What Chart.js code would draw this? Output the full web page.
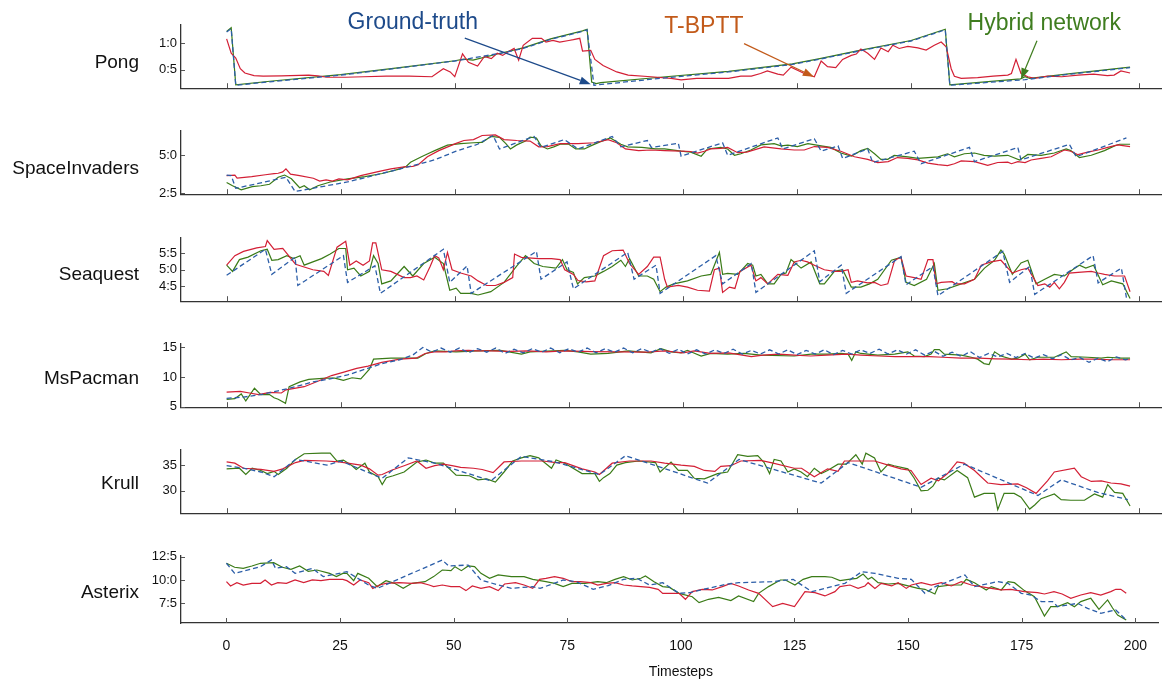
<!DOCTYPE html>
<html>
<head>
<meta charset="utf-8">
<script src="https://cdn.jsdelivr.net/npm/chart.js@4.4.1/dist/chart.umd.min.js"></script>
<style>
  html, body { margin: 0; padding: 0; background: #fff; }
  #wrap { position: relative; width: 1162px; height: 680px; overflow: hidden; }
  #wrap canvas { position: absolute; left: 0; }
</style>
</head>
<body>
<div id="wrap"></div>
<script>
// ---- data: [timestep, value] pairs ----
const xTicks = [0, 25, 50, 75, 100, 125, 150, 175, 200];
const games = ["Pong", "SpaceInvaders", "Seaquest", "MsPacman", "Krull", "Asterix"];

const pongTruth = [[0,1.21],[1,1.27],[2,0.21],[10,0.28],[25,0.40],[37.5,0.53],[50,0.665],[60,0.81],[65,0.90],[71,1.07],[78,1.22],[79,1.25],[80.5,0.21],[95,0.34],[110,0.46],[124,0.6],[130,0.70],[139,0.86],[150,1.04],[155,1.18],[157.5,1.25],[158.5,0.21],[175,0.315],[185,0.42],[198,0.54]];
const pongTbptt = [[0,1.08],[1,0.81],[2,0.72],[3,0.52],[4,0.44],[6,0.39],[8,0.38],[12,0.385],[18,0.40],[20,0.385],[22,0.36],[26,0.36],[30,0.37],[35,0.38],[40,0.38],[45,0.37],[47.5,0.52],[49,0.46],[50,0.37],[51.7,0.80],[53,0.64],[55,0.57],[56.5,0.75],[58,0.71],[59.3,0.81],[60.5,0.77],[61.7,0.84],[63,0.90],[64,0.68],[65,0.96],[67,1.09],[69,1.09],[70,1.02],[71.5,1.05],[73,1.02],[75,1.05],[76,1.065],[77.4,1.09],[78,0.85],[79.8,0.865],[80.7,0.695],[82.5,0.58],[85.5,0.46],[88,0.40],[93,0.37],[97.4,0.34],[99.6,0.31],[103,0.34],[110,0.34],[112.7,0.38],[115,0.38],[117,0.43],[118.5,0.48],[120.8,0.42],[122,0.40],[123.7,0.55],[126.6,0.43],[128.8,0.37],[130.3,0.665],[131.7,0.56],[133.5,0.54],[135,0.695],[136.9,0.77],[138,0.795],[139,0.89],[140.5,0.81],[142,0.695],[143.4,0.91],[145,0.84],[146,0.96],[147.4,0.90],[149.3,0.94],[151.5,0.91],[153.3,0.87],[155.1,0.96],[156.6,1.02],[157.7,0.93],[158.8,0.52],[159.5,0.38],[161,0.34],[164.6,0.355],[168,0.38],[171.2,0.40],[172,0.43],[173,0.695],[174.1,0.43],[175.6,0.37],[177,0.34],[180,0.38],[183,0.37],[186.6,0.40],[190,0.42],[193,0.39],[194.5,0.40],[196,0.48],[198,0.44]];
const pongHybrid = [[0,1.22],[1,1.29],[2,0.22],[10,0.29],[25,0.41],[37,0.53],[50,0.67],[52,0.70],[54,0.68],[60,0.81],[65,0.91],[71,1.08],[78,1.23],[79,1.26],[80,0.27],[81,0.24],[82,0.26],[95,0.36],[110,0.47],[124,0.61],[130,0.71],[139,0.87],[150,1.05],[155,1.19],[157.5,1.26],[158.5,0.22],[174,0.33],[175,0.37],[176,0.34],[185,0.43],[198,0.55]];

const siTruth = [[0,3.69],[1,3.65],[2,2.81],[13,3.54],[15,2.6],[26.5,3.23],[39,4.17],[45.5,4.69],[50.3,5.27],[55,5.73],[58.4,6.31],[59.8,5.42],[67.4,6.25],[68.9,5.52],[74,6.04],[77,5.42],[84.5,6.25],[86.4,5.56],[92.2,5.98],[93.1,5.52],[99,5.8],[99.6,4.94],[108.7,5.83],[109.8,5.0],[120.8,6.15],[121.9,5.42],[128.8,6.1],[130.3,5.27],[134,5.625],[135,4.79],[140.5,5.42],[141.6,4.52],[150.7,5.27],[152.2,4.44],[162.8,5.52],[163.9,4.58],[173.4,5.52],[174.1,4.69],[184.7,5.73],[186.2,4.9],[197.2,6.15]];
const siTbptt = [[0,3.65],[1.8,3.69],[2.3,3.48],[5.5,3.58],[8.5,3.71],[10.4,3.79],[11.3,3.81],[12.3,3.90],[13,4.10],[14,3.75],[16,3.65],[19,3.48],[20.4,3.29],[21.8,3.375],[23.2,3.29],[24.6,3.44],[26.5,3.375],[29.4,3.65],[33.2,3.92],[36,4.10],[38.9,4.23],[40.8,4.27],[42,4.375],[44,4.9],[46.5,5.31],[50.3,5.79],[52,5.98],[54.1,6.04],[56,6.31],[58.9,6.35],[60.8,6.04],[63.6,5.98],[66.5,5.94],[68.4,5.56],[70.3,5.58],[73.1,5.77],[77,5.77],[80.7,5.83],[83.6,6.04],[85.5,5.83],[87.4,5.42],[90.3,5.31],[93,5.35],[96,5.31],[99.6,5.27],[101.7,5.25],[103.2,5.15],[104.7,5.27],[106.1,5.42],[108.3,5.46],[109.8,5.52],[112,5.17],[114,5.21],[117.8,5.56],[121.5,5.42],[124.4,5.35],[126.6,5.35],[128.8,5.58],[131.7,5.52],[134.6,5.27],[137.6,4.9],[140.5,4.73],[142.7,4.52],[145,4.58],[147,4.85],[149.3,4.79],[151.5,4.69],[153.7,4.48],[155.9,4.375],[158,4.31],[159.5,4.44],[161,4.625],[163.9,4.58],[166.8,4.33],[169,4.52],[171.2,4.54],[172,4.44],[173.4,4.58],[175,4.52],[176.3,4.69],[178.5,4.79],[180.7,4.9],[183.6,5.35],[185,5.27],[186.6,5.04],[188.7,5.21],[191,5.35],[193.1,5.52],[195.3,5.69],[198,5.58]];
const siHybrid = [[0,3.19],[1.3,2.98],[3.2,2.71],[5.6,2.92],[7.5,2.98],[9.4,3.08],[11.3,3.54],[12.7,3.69],[14.2,3.44],[16,2.85],[17,2.98],[18.2,2.71],[20,2.98],[22.7,3.23],[26.5,3.44],[30.3,3.58],[34.1,3.79],[38,4.10],[39.4,4.27],[40.3,4.54],[42.7,4.9],[44.1,5.1],[45.6,5.31],[48.4,5.67],[51.3,5.77],[54.1,5.83],[56,5.85],[57.9,6.25],[59.8,6.19],[61.2,5.77],[62.2,5.42],[63.6,5.69],[65.5,5.94],[66.5,6.21],[67.9,6.15],[68.9,5.625],[70.3,5.42],[71.7,5.56],[73.1,5.73],[75,5.73],[76.5,5.42],[78.4,5.42],[79.8,5.625],[81.7,5.875],[84.1,6.15],[86.4,5.73],[87.9,5.56],[91,5.52],[94,5.42],[96,5.42],[99.6,5.27],[101.7,5.21],[104,4.94],[105.4,5.42],[108.3,5.52],[109.8,5.42],[111.3,5.0],[112.7,5.1],[114.9,5.35],[117.1,5.69],[120,5.77],[121.5,5.625],[123,5.67],[125.1,5.58],[127.4,5.77],[130.3,5.625],[132.4,5.52],[134.6,5.15],[136.9,4.94],[139,5.31],[140.5,5.46],[142,5.1],[143.4,4.73],[144.9,4.73],[146.3,5.0],[149.3,4.9],[151.5,4.79],[153.7,4.85],[155.9,4.9],[158,5.10],[159.5,4.9],[161.7,5.10],[163.9,5.15],[166,5.0],[168.3,4.94],[171.2,5.0],[173.8,4.69],[175.6,5.06],[178.5,5.0],[181.4,5.15],[184,5.42],[185,5.31],[186.9,4.85],[189.5,5.0],[192.4,5.31],[194.6,5.625],[195.7,5.73],[198,5.73]];

const sqTruth = [[0,4.83],[8.5,5.625],[9.9,4.86],[15,5.385],[15.6,4.52],[25.6,5.43],[26.5,4.615],[32.5,5.12],[33.7,4.28],[47.5,5.625],[48.9,4.615],[52.7,5.115],[53.6,4.28],[67.9,5.56],[68.9,4.71],[74.6,5.24],[76,4.42],[87.9,5.53],[89.3,4.71],[94.1,5.14],[95,4.28],[107.2,5.43],[108.7,4.57],[115,5.19],[116,4.31],[128.8,5.58],[130,4.635],[134.7,5.14],[135.8,4.28],[147.8,5.40],[148.9,4.54],[154.8,5.10],[155.9,4.21],[170.1,5.56],[171.6,4.615],[176,5.10],[177.1,4.25],[189.9,5.43],[191,4.60],[196.1,5.05],[197.2,4.15]];
const sqTbptt = [[0,5.14],[1.8,5.43],[3.7,5.56],[6.6,5.67],[8.5,5.71],[8.9,5.89],[10.4,5.625],[12.3,5.65],[15.1,5.17],[18.9,5.0],[21.3,4.95],[22.3,4.83],[24.2,5.69],[26.1,5.87],[27,5.14],[28.4,5.27],[29.9,5.14],[31.3,5.27],[32,5.82],[32.7,5.82],[34,5.0],[36,4.95],[38.9,4.76],[40.3,4.76],[41.7,4.81],[43.2,4.69],[44.6,5.10],[45.6,5.43],[46.5,5.36],[47.5,5.0],[48.4,5.53],[49.4,5.0],[51.3,4.90],[53.6,4.81],[55.1,4.66],[57,4.52],[58.9,4.52],[60.8,4.615],[62.7,4.76],[63.1,5.48],[64.6,5.38],[68.4,5.34],[71.2,5.34],[73.1,5.31],[74.1,5.0],[76,4.86],[77,4.67],[78.8,4.63],[80.7,4.66],[82.6,5.43],[84.5,5.58],[86.9,5.60],[88.3,5.19],[90.3,4.86],[92.2,5.10],[93.6,5.385],[95,5.385],[96,4.71],[96.6,4.47],[99,4.52],[101,4.47],[103.2,4.375],[105.8,4.35],[106.9,5.0],[108,5.05],[108.7,4.31],[110.2,4.47],[111.4,4.43],[112.5,4.95],[114.9,5.14],[116,4.66],[117.1,4.76],[118.6,4.57],[120.8,4.86],[123,4.83],[124.4,5.24],[125.9,5.29],[127.3,5.24],[128.8,5.14],[131,5.0],[133.2,4.95],[134.7,4.95],[136.2,5.0],[136.9,4.615],[138.3,4.66],[140.5,4.6],[142,4.615],[143.4,4.52],[144.9,4.57],[146.4,5.29],[147.8,5.38],[148.9,4.81],[150.7,4.76],[152.2,4.71],[153.7,5.31],[154.8,5.31],[155.5,4.57],[156.6,4.615],[159,4.635],[159.7,4.57],[161.7,4.57],[163.9,4.71],[165.4,5.14],[167.5,5.24],[169.7,5.29],[172.2,4.9],[174.1,5.0],[175.6,5.05],[177.8,4.52],[179.3,4.57],[180.4,4.47],[181.4,4.615],[182.5,4.42],[183.6,4.615],[184.7,4.9],[186.6,4.92],[189.5,4.95],[191,4.90],[192.4,4.86],[194.6,4.81],[196.8,4.81],[198,4.33]];
const sqHybrid = [[0,5.14],[1.3,4.95],[2.8,5.31],[4.7,5.385],[7.5,5.58],[8.9,5.625],[9.9,5.29],[11.3,5.31],[13.2,5.43],[14.7,5.34],[16.1,5.43],[17,5.14],[18.9,5.24],[20.8,5.34],[22.7,5.48],[24.6,5.65],[26.1,5.65],[26.5,5.0],[27.9,5.05],[29.4,4.81],[31.3,4.95],[32.2,5.43],[33.2,5.19],[34,4.57],[36,4.66],[38.9,5.10],[40.8,4.81],[43.2,5.19],[45.6,5.385],[47.5,5.19],[48.9,4.375],[50.3,4.44],[51.3,4.28],[53.6,4.28],[55.1,4.23],[57.9,4.33],[60.8,4.615],[63.6,5.12],[65.5,5.43],[67.4,5.19],[69.3,5.1],[72.2,5.05],[73.6,5.31],[74.6,5.0],[76,4.92],[76.9,4.57],[78.4,4.76],[80.7,4.81],[82.6,4.95],[84.5,5.1],[86.4,5.29],[87.4,5.1],[88.3,5.34],[90.3,4.81],[92.2,4.81],[93.6,4.71],[95,4.33],[96.3,4.47],[98,4.57],[101,4.66],[104,4.81],[106.1,4.86],[108,5.53],[108.7,4.86],[109.8,4.89],[112,4.86],[114.2,5.19],[115.3,5.14],[116,4.81],[117.1,4.86],[118.6,4.57],[120,4.57],[121.5,4.86],[122.6,4.90],[123.7,5.31],[125.9,5.05],[128.1,5.24],[130,4.57],[131,4.57],[133.2,4.95],[135,5.0],[136.9,4.47],[139,4.47],[140.9,4.57],[142.7,4.71],[145.7,5.29],[147.8,5.38],[148.9,4.615],[150.7,4.52],[153.4,4.71],[155.1,5.19],[155.9,4.375],[158,4.42],[161,4.57],[163.9,4.71],[166.1,5.05],[168.3,5.29],[169.7,5.60],[170.4,5.48],[172.2,4.86],[174.1,5.21],[175.6,5.29],[177.4,4.57],[179.3,4.71],[181.4,4.86],[183.6,4.81],[185.4,5.0],[186.9,5.14],[188.3,5.05],[190,5.14],[192,4.54],[193.9,4.66],[196.4,4.57],[198,4.12]];

const msTruth = [[0,6.44],[3.7,6.65],[7.5,7.07],[11.3,7.71],[15.1,8.4],[18.9,9.2],[22.7,9.73],[26.5,10.37],[30.3,11.33],[34.1,12.29],[37.9,12.93],[40.8,13.72],[43,15.0],[45,14.2],[47,14.9],[49,14.2],[51,14.9],[53,14.1],[55,14.8],[57,14.2],[59,14.9],[61,14.0],[63,14.7],[65,14.1],[67,14.8],[69,14.2],[71,14.9],[73,14.1],[75,14.8],[77,14.2],[79,14.9],[81,14.1],[83,14.8],[85,14.2],[87,14.9],[89,14.1],[91,14.8],[93,14.2],[95,14.8],[97,14.0],[99,14.7],[101,13.9],[103,14.6],[105,13.9],[107,14.6],[109,14.0],[111,14.7],[113,13.9],[115,14.5],[117,13.9],[119,14.6],[121,13.9],[123,14.6],[125,13.8],[127,14.5],[129,13.9],[131,14.6],[133,13.8],[135,14.5],[137,13.9],[139,14.6],[141,14.0],[143,14.7],[145,13.9],[147,14.6],[149,13.9],[151,14.6],[153,13.7],[155,14.4],[157,13.5],[159,14.2],[161,13.5],[163,14.3],[165,13.3],[167,14.0],[169,13.4],[171,14.0],[173,13.3],[175,14.0],[177,13.2],[179,13.8],[181,13.1],[183,13.8],[185,12.9],[187,13.3],[189,12.5],[191,13.2],[193,12.6],[195,13.4],[197,12.9],[198,13.2]];
const msTbptt = [[0,7.5],[3,7.61],[5,7.34],[7,7.07],[9.5,7.45],[12,7.34],[13,7.87],[17,8.4],[20,9.31],[23,10.27],[25.5,10.8],[28.5,11.49],[31,11.86],[34,12.5],[38,13.03],[41.5,13.19],[43.5,13.99],[45.5,14.26],[48,14.26],[50,14.41],[53,14.52],[55,14.41],[58,14.41],[62,14.35],[66,14.41],[70,14.26],[74,14.41],[80,14.3],[86,14.26],[92,14.2],[96,14.41],[100,14.1],[102.5,14.41],[106,13.99],[110,14.1],[115,13.46],[117.5,13.72],[121,13.88],[124.5,13.72],[128,13.56],[131.5,13.72],[136,13.88],[139,13.72],[143,13.56],[146.5,13.46],[150,13.46],[154,13.46],[157,13.35],[161,13.19],[165,13.19],[168.5,13.09],[172,13.03],[176,12.93],[179,13.03],[183,12.93],[187,13.03],[190,13.03],[194,12.93],[198,12.93]];
const msHybrid = [[0,6.28],[1.8,6.38],[3.2,7.18],[4.2,6.0],[6.1,8.14],[7.5,7.07],[9.4,7.07],[10.4,6.54],[11.3,6.28],[12.9,5.59],[13.7,8.4],[16.1,9.2],[18,9.63],[21.8,9.84],[23.7,9.84],[25.6,9.47],[27.5,9.9],[29.4,9.73],[31.3,11.33],[32.2,13.03],[36,13.19],[39,13.19],[41.9,13.19],[43.7,13.99],[45.6,14.41],[50.3,14.26],[55,14.41],[60,14.52],[64.6,13.88],[66.5,14.26],[74.1,14.52],[77,14.26],[79.8,13.88],[83.6,13.99],[88,14.41],[93,14.1],[95.2,14.79],[97.4,14.26],[99.6,14.1],[101,14.52],[104,13.56],[106.1,13.99],[109.8,13.88],[113.4,13.99],[117.1,13.72],[124.4,13.56],[128.1,13.88],[131.7,13.88],[134.6,13.99],[136.2,13.88],[137,12.82],[137.9,14.26],[139,13.99],[142.7,13.72],[146.4,13.88],[149.3,14.26],[150.7,13.56],[152.9,13.46],[154.4,13.88],[155.1,14.63],[156.2,14.63],[157.3,13.88],[161,13.72],[163.2,13.35],[164.6,13.03],[166,12.29],[167.1,12.13],[168.3,14.26],[169.7,13.56],[172,13.03],[173.4,13.19],[175,13.88],[176,12.93],[177.8,13.35],[181.4,13.35],[184,14.26],[185.1,13.46],[188.7,13.35],[191.7,13.19],[193.1,13.35],[196,13.19],[198,13.19]];

const krTruth = [[0,34.88],[3.7,34.4],[7.5,33.66],[10.4,32.74],[15.1,36.1],[22,35.0],[25,35.8],[34.1,32.44],[39.8,36.4],[46,35.3],[57.9,31.95],[64.6,36.7],[72,35.6],[81.7,33.17],[87.4,36.8],[95.2,34.57],[105.4,31.5],[112.3,36.1],[130.3,31.5],[136.2,35.5],[152.2,30.7],[161.7,35.18],[177.8,29.1],[182.9,32.13],[190.9,29.7],[197.5,28.3]];
const krTbptt = [[0,35.61],[1.8,35.37],[3.7,34.39],[7.5,34.15],[10.4,33.78],[12.3,34.27],[15.1,35.49],[17,35.91],[21.8,35.79],[24.6,35.61],[26.5,35.37],[29.4,35.0],[31.3,34.27],[33.2,33.05],[34.1,33.17],[36,33.96],[38.9,34.88],[41.7,35.79],[43.7,34.39],[45.6,34.88],[47.5,35.18],[49.4,34.88],[51.3,34.57],[54.1,34.39],[56,34.15],[58.4,33.54],[60.8,35.61],[64.6,35.79],[69.3,35.79],[72.2,35.49],[74.1,35.49],[77.9,34.27],[80.7,33.66],[81.7,33.17],[84.5,35.37],[88.3,35.79],[93,35.79],[96,35.37],[99.6,35.0],[102.5,34.76],[104.7,33.96],[107,33.78],[108.3,34.76],[110.5,34.88],[112.7,35.79],[117,35.91],[119.3,35.49],[124.4,34.39],[126,34.39],[128.8,32.74],[131.7,34.27],[134,33.78],[135.4,35.79],[142,35.79],[145,35.0],[147.8,34.27],[150,33.96],[152.2,31.22],[154.4,32.44],[156,31.95],[158,33.35],[160.1,35.61],[161.6,35.37],[163.9,33.96],[166.8,31.52],[169.7,31.22],[173.4,31.34],[175.3,30.61],[177.4,29.51],[179.9,31.95],[181.4,33.66],[185.8,34.39],[187.3,32.74],[189.5,31.83],[191.7,31.95],[193.8,31.52],[196,31.34],[198,30.91]];
const krHybrid = [[0,34.27],[2.8,34.39],[4.2,33.17],[5.6,34.39],[7.5,33.96],[8.9,33.35],[10.4,33.78],[11.3,33.17],[13.2,34.39],[15.1,36.1],[17,37.2],[20.8,37.32],[22.7,37.32],[24.2,35.79],[25.6,35.98],[27.5,34.88],[28.4,34.15],[30.3,35.37],[31.3,33.66],[33.2,32.74],[34.1,31.22],[35,32.56],[36.5,32.93],[38.9,33.66],[41.7,35.61],[43.7,35.98],[45.6,35.37],[47.5,35.37],[50.3,33.05],[53.2,32.93],[55.1,32.13],[57,32.32],[58.9,31.71],[60.8,33.66],[62.7,35.79],[64.6,36.4],[66.5,36.83],[68.4,36.4],[71.2,34.39],[72.2,35.98],[74.1,35.37],[77.9,33.35],[80.7,33.35],[81.7,31.83],[82.6,32.56],[84,33.35],[85.5,35.0],[87.4,35.49],[90.3,35.79],[94,35.49],[95,33.66],[97.4,35.6],[99,33.96],[101,34.0],[102.5,32.44],[104.7,32.32],[107.6,33.35],[109.8,33.66],[112,37.01],[114.2,36.71],[116.4,36.83],[117.8,35.49],[119,33.35],[120,36.1],[121.5,35.79],[123,33.66],[124.4,34.27],[125.9,33.66],[127.3,32.74],[128.8,34.39],[130.3,33.35],[131.7,33.96],[134,35.18],[135.8,35.18],[137.9,37.01],[139.3,35.18],[140.1,37.32],[142,36.4],[143.4,33.66],[145,35.18],[146.3,34.88],[149.3,34.27],[150.7,32.44],[152.2,30.0],[153.7,30.12],[154.8,30.91],[155.9,32.44],[157.3,32.13],[160.1,33.96],[162.4,32.56],[163.9,28.78],[166,29.51],[168.3,29.51],[169,26.34],[170.4,29.51],[172.6,29.51],[174.1,28.78],[176,26.46],[177.1,27.26],[178.5,28.48],[181.4,29.39],[182.9,28.29],[185,28.17],[188,28.17],[190.2,29.39],[192,28.78],[193.1,31.22],[194.6,29.7],[196.4,29.51],[198,27.07]];

const atTruth = [[0,11.79],[1.8,10.71],[7.5,11.43],[9.9,12.14],[10.8,11.25],[13.2,11.43],[15.1,10.71],[18.9,11.25],[21.3,10.36],[26.5,10.89],[31.3,9.46],[33.2,9.1],[47.5,12.14],[48.9,11.5],[53.2,11.6],[56,10.0],[59.8,9.46],[62.7,9.1],[67.4,9.29],[69,9.1],[74.1,10.0],[77,9.82],[80.7,9.0],[84,9.4],[87.4,10.07],[90.3,10.18],[93.1,9.46],[96,9.71],[99.6,8.57],[102,8.64],[105,9.0],[110,9.54],[112.7,9.71],[120,9.82],[124.7,10.07],[128.8,8.75],[136.1,9.64],[139.8,10.89],[142.7,10.71],[147.8,10.18],[150.7,10.07],[153.7,8.57],[156,9.29],[162.5,10.54],[164.6,9.29],[169.7,9.82],[172,9.64],[174.9,8.57],[177,8.39],[179.3,7.68],[181.8,7.68],[182.9,7.14],[187.3,7.5],[189.5,6.96],[192.4,6.43],[195.7,6.79],[198,5.71]];
const atTbptt = [[0,9.82],[0.9,9.36],[2.3,9.71],[3.7,9.46],[5.6,9.64],[7.5,9.64],[8.5,10.0],[9.9,9.46],[11.3,9.71],[13.2,9.64],[15.1,10.0],[17,9.71],[18.9,10.0],[20.8,9.93],[22.7,10.07],[25.6,10.07],[26.5,9.93],[28,9.46],[29.4,10.0],[31.3,9.71],[32.2,9.1],[33.7,9.46],[35.1,9.64],[38,9.71],[40.8,9.64],[42.7,9.71],[44.6,9.46],[45.6,9.29],[47.5,9.46],[49.4,9.29],[51.3,9.29],[52.7,8.86],[54.1,9.36],[56,9.1],[57.9,9.29],[59.8,8.86],[61.2,9.57],[63.6,9.71],[65.5,9.46],[67.4,9.1],[68.9,10.07],[70.3,10.18],[72.2,10.36],[74.1,10.18],[76,9.82],[77.9,9.82],[80.2,9.71],[81.7,9.46],[83.6,9.64],[85.5,9.71],[87.4,9.46],[89.3,9.36],[91.2,9.29],[93.1,9.21],[95,9.0],[96,8.57],[97.9,8.57],[99.6,8.57],[101,7.93],[102.5,8.75],[104.7,9.0],[106.9,8.93],[109.1,9.29],[111,9.64],[112.7,9.36],[114.9,8.93],[117.1,8.57],[120.2,7.14],[122.4,7.5],[125,7.14],[127.3,8.75],[129.5,8.64],[131.7,8.29],[133.9,8.75],[135,9.29],[137.2,9.46],[139,9.1],[140.5,9.36],[141.2,9.71],[142.7,9.1],[144.1,9.64],[146.4,9.36],[147.8,9.71],[149.6,9.1],[150.7,9.46],[152.9,9.71],[155.1,9.46],[157.3,9.71],[159.5,9.36],[161.7,9.82],[163.9,9.46],[166,9.29],[168.3,9.1],[170.5,8.93],[172.6,9.0],[175.6,8.75],[178.5,8.64],[180,8.5],[182.1,8.75],[183.9,8.5],[185.8,8.04],[188,8.39],[190.2,8.64],[192.4,8.39],[194.6,8.75],[195.7,9.0],[196.8,9.0],[198,8.57]];
const atHybrid = [[0,11.79],[1.8,11.36],[3.7,11.25],[5.6,11.5],[7.5,11.79],[10.4,11.86],[12.3,11.36],[14.2,11.14],[16.1,11.5],[18,10.93],[19.9,11.07],[22.7,10.71],[24.2,10.36],[25.6,10.71],[26.5,10.71],[28,9.93],[28.9,10.71],[31.3,10.18],[33.2,9.29],[35.1,9.93],[37,9.64],[38.9,9.1],[40.8,9.64],[43.7,9.82],[45.6,10.36],[47.5,11.07],[49.4,11.0],[50.3,11.43],[51.7,11.0],[53.2,11.5],[54.6,11.43],[56,10.71],[57.9,10.18],[59.8,10.54],[62.7,10.36],[65.5,10.36],[67.4,10.07],[70.3,9.82],[72.2,9.64],[74.1,9.29],[76,9.64],[78.9,9.64],[81.7,9.82],[83.6,9.71],[85.5,10.07],[87.4,10.36],[89.3,10.0],[91.2,10.18],[92.2,10.43],[94.1,9.82],[96,9.29],[97.5,9.2],[99.6,8.57],[102.5,8.21],[104,7.57],[106.1,7.93],[108.3,8.14],[111,7.79],[112.7,8.29],[116,7.68],[117.1,8.57],[119.3,9.29],[121.9,10.0],[123,10.0],[125.1,9.46],[126.9,10.07],[128.8,10.36],[131.7,10.36],[133.2,10.29],[135,9.93],[136.9,10.07],[138.7,10.18],[140.1,10.64],[141.2,10.07],[142,10.29],[143.4,9.71],[145.6,9.57],[147.8,9.64],[150,9.36],[152.2,9.1],[153.7,9.0],[155.9,8.5],[156.6,9.29],[159.5,9.46],[161.7,9.46],[162.8,10.07],[164.6,9.71],[167.2,8.93],[168.3,9.29],[170.5,8.93],[172,9.82],[173.4,9.71],[175.6,8.86],[177.8,8.21],[180,6.14],[181.4,7.14],[182.9,7.14],[185.1,7.57],[186.6,7.14],[188,7.68],[190.2,8.04],[192,6.86],[193.9,7.86],[195,7.0],[196.1,6.25],[198,5.71]];

// y tick values and labels per game (the figure prints a colon for the decimal point)
const pongTicks = [0.5, 1.0];          const pongTickLabels = ["0:5", "1:0"];
const siTicks = [2.5, 5.0];            const siTickLabels = ["2:5", "5:0"];
const sqTicks = [4.5, 5.0, 5.5];       const sqTickLabels = ["4:5", "5:0", "5:5"];
const msTicks = [5, 10, 15];           const msTickLabels = ["5", "10", "15"];
const krTicks = [30, 35];              const krTickLabels = ["30", "35"];
const atTicks = [7.5, 10.0, 12.5];     const atTickLabels = ["7:5", "10:0", "12:5"];

// ---- panel layout ----
const FONT = '"Liberation Sans", Arial, Helvetica, sans-serif';
const COL_TRUTH = "#2c5ea8", COL_TBPTT = "#d31f35", COL_HYBRID = "#3a7b17";
const PANEL_H = 67, PAD_TOP = 25;

const panels = [
  { name: games[0], truth: pongTruth, tbptt: pongTbptt, hybrid: pongHybrid, min: 0.155, max: 1.34, ticks: pongTicks, labels: pongTickLabels, bottom: 92,  nameOff: 20 },
  { name: games[1], truth: siTruth,   tbptt: siTbptt,   hybrid: siHybrid,   min: 2.42,  max: 6.61, ticks: siTicks,   labels: siTickLabels,   bottom: 198, nameOff: 20 },
  { name: games[2], truth: sqTruth,   tbptt: sqTbptt,   hybrid: sqHybrid,   min: 4.04,  max: 5.97, ticks: sqTicks,   labels: sqTickLabels,   bottom: 305, nameOff: 21 },
  { name: games[3], truth: msTruth,   tbptt: msTbptt,   hybrid: msHybrid,   min: 4.95,  max: 15.58, ticks: msTicks,  labels: msTickLabels,   bottom: 411, nameOff: 23 },
  { name: games[4], truth: krTruth,   tbptt: krTbptt,   hybrid: krHybrid,   min: 25.66, max: 37.93, ticks: krTicks,  labels: krTickLabels,   bottom: 517, nameOff: 24 },
  { name: games[5], truth: atTruth,   tbptt: atTbptt,   hybrid: atHybrid,   min: 5.39,  max: 12.57, ticks: atTicks,  labels: atTickLabels,   bottom: 623, nameOff: 25 }
];

// annotation callouts on the Pong panel, in data coordinates (timestep, value)
const callouts = [
  { text: "Ground-truth",   color: "#1d4a8a", at: [40.8, 1.393], from: [52.2, 1.093], to: [79.8, 0.23] },
  { text: "T-BPTT",         color: "#c25a1a", at: [104.6, 1.305], from: [113.4, 0.99], to: [128.7, 0.37] },
  { text: "Hybrid network", color: "#3f7d1f", at: [179.2, 1.357], from: [177.6, 1.046], to: [174.1, 0.324] }
];

// plugin: inside tick marks, game name, callouts, x title
const decor = {
  id: "decor",
  afterDraw(chart, args, o) {
    const ctx = chart.ctx, xs = chart.scales.x, ys = chart.scales.y, a = chart.chartArea;
    ctx.save();
    ctx.strokeStyle = "#555";
    ctx.lineWidth = 1;
    xTicks.forEach(v => {
      const px = Math.round(xs.getPixelForValue(v)) + 0.5;
      ctx.beginPath(); ctx.moveTo(px, a.bottom); ctx.lineTo(px, a.bottom - 5); ctx.stroke();
    });
    o.yTicks.forEach(v => {
      const py = Math.round(ys.getPixelForValue(v)) + 0.5;
      ctx.beginPath(); ctx.moveTo(a.left, py); ctx.lineTo(a.left + 4, py); ctx.stroke();
    });
    // game name on the left
    ctx.fillStyle = "#111";
    ctx.font = "19px " + FONT;
    ctx.textAlign = "right";
    ctx.textBaseline = "alphabetic";
    ctx.fillText(o.name, 139, a.bottom - o.nameOff);
    // callouts (Pong only)
    (o.callouts || []).forEach(c => {
      const x0 = xs.getPixelForValue(c.from[0]), y0 = ys.getPixelForValue(c.from[1]);
      const x1 = xs.getPixelForValue(c.to[0]), y1 = ys.getPixelForValue(c.to[1]);
      const ang = Math.atan2(y1 - y0, x1 - x0), L = 11, W = 4;
      ctx.strokeStyle = c.color; ctx.fillStyle = c.color; ctx.lineWidth = 1.2;
      ctx.beginPath(); ctx.moveTo(x0, y0);
      ctx.lineTo(x1 - L * Math.cos(ang), y1 - L * Math.sin(ang)); ctx.stroke();
      ctx.beginPath();
      ctx.moveTo(x1, y1);
      ctx.lineTo(x1 - L * Math.cos(ang) + W * Math.sin(ang), y1 - L * Math.sin(ang) - W * Math.cos(ang));
      ctx.lineTo(x1 - L * Math.cos(ang) - W * Math.sin(ang), y1 - L * Math.sin(ang) + W * Math.cos(ang));
      ctx.closePath(); ctx.fill();
      ctx.font = "23px " + FONT;
      ctx.textAlign = "center"; ctx.textBaseline = "middle";
      ctx.fillText(c.text, xs.getPixelForValue(c.at[0]), ys.getPixelForValue(c.at[1]));
    });
    // x axis title (bottom panel only)
    if (o.xTitle) {
      ctx.fillStyle = "#111";
      ctx.font = "14px " + FONT;
      ctx.textAlign = "center"; ctx.textBaseline = "middle";
      ctx.fillText(o.xTitle, xs.getPixelForValue(100), a.bottom + 49);
    }
    ctx.restore();
  }
};

const toXY = arr => arr.map(p => ({ x: p[0], y: p[1] }));
const wrap = document.getElementById("wrap");

panels.forEach((p, i) => {
  const last = i === panels.length - 1;
  const padBottom = last ? 0 : 8;
  const xH = last ? 57 : 0;
  const h = PAD_TOP + PANEL_H + padBottom + xH;
  const cv = document.createElement("canvas");
  cv.width = 1162; cv.height = h;
  cv.style.top = (p.bottom - PANEL_H - PAD_TOP) + "px";
  cv.style.width = "1162px"; cv.style.height = h + "px";
  wrap.appendChild(cv);

  new Chart(cv.getContext("2d"), {
    type: "line",
    data: {
      datasets: [
        { label: "Ground-truth", data: toXY(p.truth), borderColor: COL_TRUTH, borderWidth: 1.3, borderDash: [5, 3] },
        { label: "T-BPTT", data: toXY(p.tbptt), borderColor: COL_TBPTT, borderWidth: 1.2 },
        { label: "Hybrid network", data: toXY(p.hybrid), borderColor: COL_HYBRID, borderWidth: 1.2 }
      ]
    },
    options: {
      responsive: false,
      animation: false,
      events: [],
      elements: { point: { radius: 0 }, line: { tension: 0, fill: false } },
      layout: { padding: { top: PAD_TOP, bottom: padBottom, left: 0, right: 0 }, autoPadding: false },
      plugins: {
        legend: { display: false },
        tooltip: { enabled: false },
        decor: { name: p.name, nameOff: p.nameOff, yTicks: p.ticks, callouts: i === 0 ? callouts : null, xTitle: last ? "Timesteps" : null }
      },
      scales: {
        x: {
          type: "linear", min: -10, max: 205,
          grid: { display: false, drawTicks: false },
          border: { display: true, color: "#333", width: 1.3 },
          afterBuildTicks: s => { s.ticks = xTicks.map(v => ({ value: v })); },
          afterFit: s => { s.height = xH; },
          ticks: { display: last, padding: 15, color: "#111", font: { size: 14, family: FONT } }
        },
        y: {
          type: "linear", min: p.min, max: p.max,
          grid: { display: false, drawTicks: false },
          border: { display: true, color: "#333", width: 1.3 },
          afterBuildTicks: s => { s.ticks = p.ticks.map(v => ({ value: v })); },
          afterFit: s => { s.width = 181; },
          ticks: { padding: 4, color: "#111", font: { size: 13, family: FONT }, callback: (v, idx) => p.labels[idx] }
        }
      }
    },
    plugins: [decor]
  });
});
</script>
</body>
</html>
